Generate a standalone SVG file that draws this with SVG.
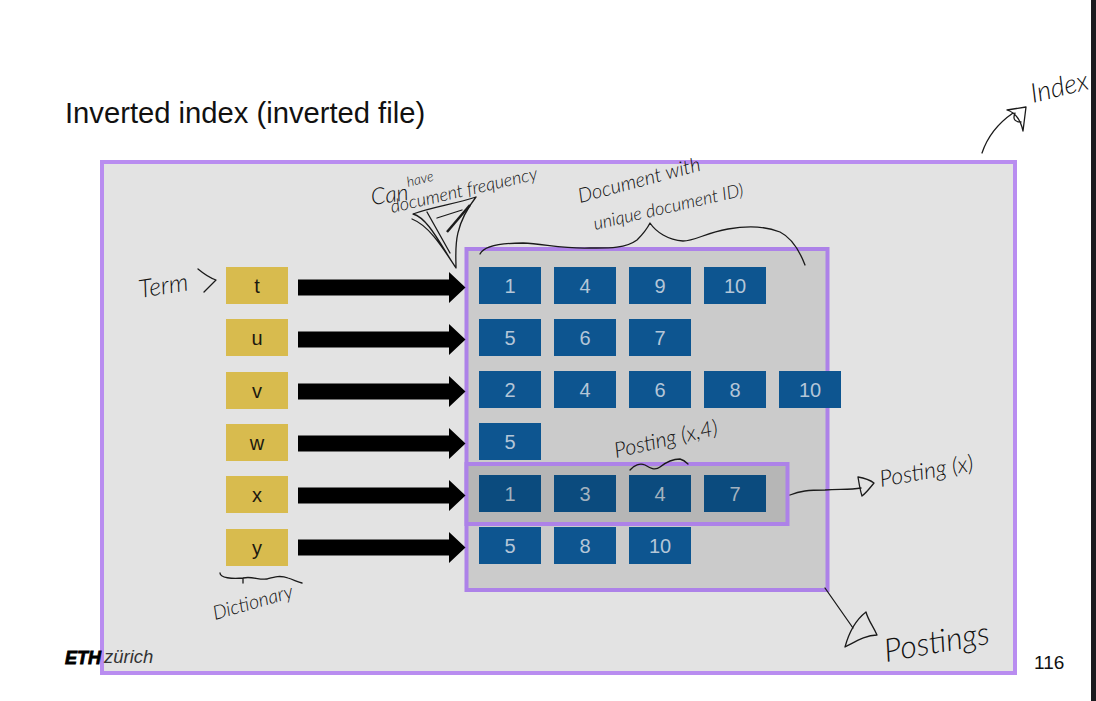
<svg xmlns="http://www.w3.org/2000/svg" width="1096" height="701" viewBox="0 0 1096 701">
<style>
text{font-family:"Liberation Sans",Arial,sans-serif}
.term rect{fill:#d8bb4e}
.term text{font-size:20px;fill:#1c1a10;text-anchor:middle}
.c rect{fill:#0d5590;width:62px;height:37px}
.c text{font-size:20px;fill:#b4c6d8;text-anchor:middle}
.d rect{fill:#0b4b7e}
.d text{fill:#a3b2bf}
.ink{fill:none;stroke:#1a1a1a;stroke-width:1.3;stroke-linecap:round;stroke-linejoin:round}
.hand{font-family:"Lato","Noto Sans",sans-serif;font-style:italic;font-weight:300;fill:#111}
</style>
<defs>
<polygon id="big" points="298,-8 449,-8 449,-15.500 465.500,0 449,15.500 449,8 298,8" fill="#000"/>
</defs>
<rect width="1096" height="701" fill="#fff"/>
<rect x="1091" y="0" width="5" height="701" fill="#1b1b1f"/>
<text x="65" y="123" font-size="29.200" fill="#111">Inverted index (inverted file)</text>
<rect x="102" y="162" width="913" height="511" fill="#e3e3e3" stroke="#b98df0" stroke-width="4"/>
<rect x="466.500" y="249" width="361" height="341" fill="#cbcbcb" stroke="#ad82e8" stroke-width="4"/>
<rect x="466.500" y="464" width="321" height="60" fill="#b6b6b6" stroke="#ad82e8" stroke-width="4"/>

<g id="connectors">
<use href="#big" y="287.500"/>
<use href="#big" y="339.500"/>
<use href="#big" y="391.500"/>
<use href="#big" y="443.500"/>
<use href="#big" y="495.500"/>
<use href="#big" y="547.500"/>
</g>

<g id="term-t" class="term"><rect x="226" y="267" width="62" height="37"/><text x="257" y="293">t</text></g>
<g id="term-u" class="term"><rect x="226" y="319" width="62" height="37"/><text x="257" y="345">u</text></g>
<g id="term-v" class="term"><rect x="226" y="372" width="62" height="37"/><text x="257" y="398">v</text></g>
<g id="term-w" class="term"><rect x="226" y="424" width="62" height="37"/><text x="257" y="450">w</text></g>
<g id="term-x" class="term"><rect x="226" y="476" width="62" height="37"/><text x="257" y="502">x</text></g>
<g id="term-y" class="term"><rect x="226" y="529" width="62" height="37"/><text x="257" y="555">y</text></g>

<g id="postings-t" class="c">
<rect x="479" y="267"/><text x="510" y="293">1</text>
<rect x="554" y="267"/><text x="585" y="293">4</text>
<rect x="629" y="267"/><text x="660" y="293">9</text>
<rect x="704" y="267"/><text x="735" y="293">10</text>
</g>
<g id="postings-u" class="c">
<rect x="479" y="319"/><text x="510" y="345">5</text>
<rect x="554" y="319"/><text x="585" y="345">6</text>
<rect x="629" y="319"/><text x="660" y="345">7</text>
</g>
<g id="postings-v" class="c">
<rect x="479" y="371"/><text x="510" y="397">2</text>
<rect x="554" y="371"/><text x="585" y="397">4</text>
<rect x="629" y="371"/><text x="660" y="397">6</text>
<rect x="704" y="371"/><text x="735" y="397">8</text>
<rect x="779" y="371"/><text x="810" y="397">10</text>
</g>
<g id="postings-w" class="c">
<rect x="479" y="423"/><text x="510" y="449">5</text>
</g>
<g id="postings-x" class="c d">
<rect x="479" y="475"/><text x="510" y="501">1</text>
<rect x="554" y="475"/><text x="585" y="501">3</text>
<rect x="629" y="475"/><text x="660" y="501">4</text>
<rect x="704" y="475"/><text x="735" y="501">7</text>
</g>
<g id="postings-y" class="c">
<rect x="479" y="527"/><text x="510" y="553">5</text>
<rect x="554" y="527"/><text x="585" y="553">8</text>
<rect x="629" y="527"/><text x="660" y="553">10</text>
</g>

<g id="footer">
<text x="65" y="664" font-size="18" font-weight="700" font-style="italic" fill="#000" stroke="#000" stroke-width=".8">ETH</text>
<text x="104" y="663" font-size="18.500" font-style="italic" fill="#333">zürich</text>
<text x="1034" y="669" font-size="19" fill="#111">116</text>
</g>

<g id="annotations">
<path class="ink" d="M982 153C988 135 1000 122 1013 113"/>
<path class="ink" d="M1007 110L1026 107L1023 131C1021 122 1017 113 1007 110M1015 113C1012 120 1016 122 1021 122"/>
<text class="hand" font-size="27" transform="translate(1033 103) rotate(-14)">Index</text>

<text class="hand" font-size="23" transform="translate(372 205) rotate(-8)">Can</text>
<text class="hand" font-size="14" transform="translate(408 187) rotate(-14)">have</text>
<text class="hand" font-size="18" transform="translate(392 213) rotate(-13)">document frequency</text>
<path class="ink" d="M476 197C455 204 432 207 413 214C428 218 440 244 456 268C456 250 452 228 476 197M412 219C430 226 444 250 456 268M427 212L450 253M437 218L462 210"/>
<path d="M447 232L470 205" fill="none" stroke="#1a1a1a" stroke-width="2.500"/>

<text class="hand" font-size="20" transform="translate(580 203) rotate(-15)">Document with</text>
<text class="hand" font-size="18" transform="translate(595 230) rotate(-13)">unique document ID)</text>
<path class="ink" d="M480 254C484 246 500 243 523 243C545 244 563 249 590 248C605 248 625 249 637 240C642 235 647 229 650 223C656 232 668 240 683 241C695 241 705 233 728 229C745 226 765 226 780 232C792 238 800 252 805 265"/>

<text class="hand" font-size="21.500" transform="translate(616 458) rotate(-13)">Posting (x,4)</text>
<path class="ink" d="M630 470C634 465 640 463 645 465C650 468 655 471 660 467C665 463 672 459 680 459C684 460 686 462 688 464"/>

<path class="ink" d="M790 495C800 491 808 490 825 490C840 489 850 490 861 488"/>
<path class="ink" d="M858 477C864 478 870 480 874 483C870 488 866 493 862 496C860 490 859 483 858 477Z"/>
<text class="hand" font-size="23" transform="translate(881 487) rotate(-10)">Posting (x)</text>

<path class="ink" d="M825 588L853 628"/>
<path class="ink" d="M866 612C853 622 848 636 845 647C855 642 865 635 877 635C873 626 868 620 866 612Z"/>
<text class="hand" font-size="32" transform="translate(886 662) rotate(-10)">Postings</text>

<path class="ink" d="M220 573C220 578 232 579 243 578C252 576 258 580 267 579C274 577 280 575 288 578C294 580 298 582 302 583M243 578V583"/>
<text class="hand" font-size="19.500" transform="translate(215 620) rotate(-16)">Dictionary</text>

<text class="hand" font-size="25" transform="translate(140 298) rotate(-9)">Term</text>
<path class="ink" d="M198 269C204 274 210 278 216 280C212 284 208 288 204 292"/>
</g>
</svg>
